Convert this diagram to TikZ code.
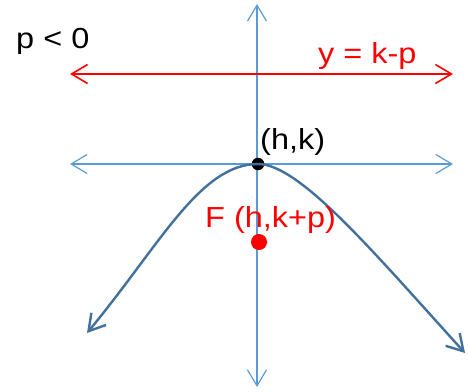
\documentclass[tikz,border=0pt]{standalone}
\usepackage{fontspec}
\setmainfont{Liberation Sans}[FakeStretch=1.12]
\usetikzlibrary{arrows.meta}

\definecolor{axisblue}{RGB}{91,155,213}
\definecolor{curveblue}{RGB}{65,113,156}
\definecolor{focusred}{RGB}{255,0,0}

\begin{document}
\begin{tikzpicture}[x=1pt,y=-1pt,
		>={Straight Barb[length=16pt,width=19pt]},
		axisline/.style={axisblue, line width=1.2pt, <->},
		directrix/.style={focusred, line width=1.6pt, <->},
		curve/.style={curveblue, line width=2.4pt, ->},
		dot/.style={circle, fill, inner sep=0pt, minimum size=#1},
		lbl/.style={font=\fontsize{29}{32}\selectfont, inner sep=0pt, anchor=base west}]
		
		\useasboundingbox (0,0) rectangle (468,391);
		
		% Axes
		\coordinate (top) at (257,4);
		\coordinate (bottom) at (257,387);
		\coordinate (left) at (70,164);
		\coordinate (right) at (453,164);
		\draw[axisline] (bottom) -- (top);
		\draw[axisline] (left) -- (right);
		
		% Directrix
		\coordinate (dl) at (70,74);
		\coordinate (dr) at (453,74);
		\draw[directrix] (dl) -- (dr);
		
		% Parabola
		\node[dot=12.5pt, black] (vertex) at (258,164) {};
		\coordinate (endl) at (87,333);
		\coordinate (endr) at (465,353);
		\draw[curve] (vertex.center) .. controls (200,164) and (160,245) .. (endl);
		\draw[curve] (vertex.center) .. controls (300,164) and (375,254) .. (endr);
		
		% Focus
		\node[dot=16pt, focusred] (focus) at (259,242) {};
		
		% Labels
		\node[lbl] (sign) at (16,48) {p < 0};
		\node[lbl, focusred] (dirlabel) at (318,63) {y = k-p};
		\node[lbl] (vlabel) at (260,149) {(h,k)};
		\node[lbl, focusred] (flabel) at (205,227) {F (h,k+p)};
		
	\end{tikzpicture}
\end{document}
